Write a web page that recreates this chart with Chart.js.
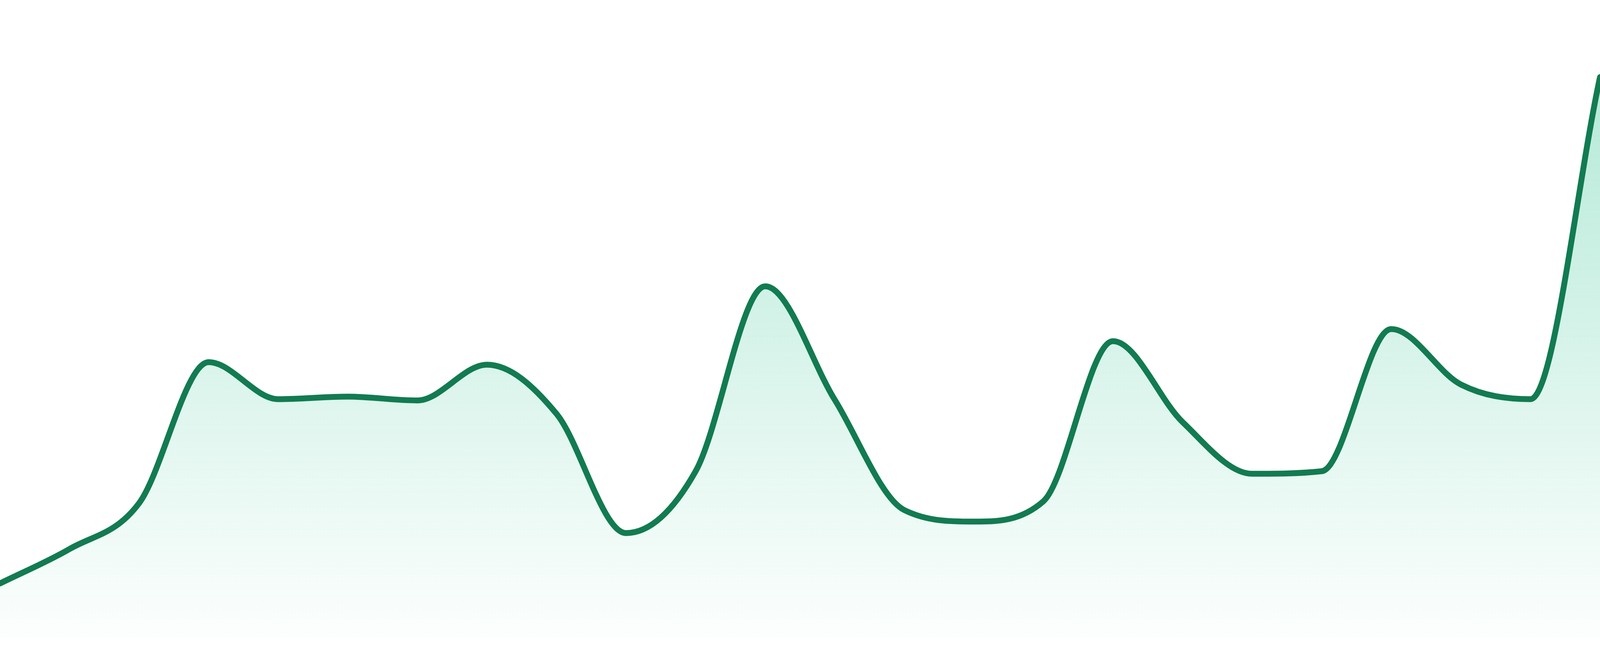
<!DOCTYPE html>
<html>
<head>
<meta charset="utf-8">
<script src="https://cdn.jsdelivr.net/npm/chart.js@4.4.1/dist/chart.umd.min.js"></script>
<style>
  html, body { margin: 0; padding: 0; background: #ffffff; overflow: hidden; }
  canvas { display: block; }
</style>
</head>
<body>
<canvas id="c"></canvas>
<script>
const labels = ["1","2","3","4","5","6","7","8","9","10","11","12","13","14","15","16","17","18","19","20","21","22","23","24"];
const values = [8.5, 13.9, 21.1, 43.2, 37.4, 37.8, 37.2, 42.8, 35.1, 16.4, 26.1, 55.1, 37.3, 20.0, 18.2, 21.4, 46.5, 33.8, 25.7, 26.1, 48.4, 39.7, 37.4, 87.9];
const yMin = 0;
const yMax = 100;

const lineColor = '#127b51';

const canvas = document.getElementById('c');
const W = window.innerWidth || 4800;
const H = window.innerHeight || 1680;
canvas.width = W;
canvas.height = H;

function fillGradient(ctx) {
  const chart = ctx.chart;
  const area = chart.chartArea;
  if (!area) return 'rgba(16,185,129,0.2)';
  const g = chart.ctx.createLinearGradient(0, area.top, 0, area.bottom);
  g.addColorStop(0, 'rgba(16,185,129,0.35)');
  g.addColorStop(1, 'rgba(16,185,129,0.01)');
  return g;
}

new Chart(canvas, {
  type: 'line',
  data: {
    labels: labels,
    datasets: [{
      data: values,
      borderColor: lineColor,
      borderWidth: 15,
      borderCapStyle: 'round',
      borderJoinStyle: 'round',
      backgroundColor: fillGradient,
      fill: 'start',
      cubicInterpolationMode: 'monotone',
      pointRadius: 0,
      pointHoverRadius: 0
    }]
  },
  options: {
    responsive: false,
    devicePixelRatio: 1,
    animation: false,
    layout: { padding: { left: 0, right: 0, top: 0, bottom: Math.round(H * 47 / 1680) } },
    plugins: { legend: { display: false }, tooltip: { enabled: false } },
    scales: {
      x: { display: false, offset: false },
      y: { display: false, min: yMin, max: yMax }
    }
  }
});
</script>
</body>
</html>
